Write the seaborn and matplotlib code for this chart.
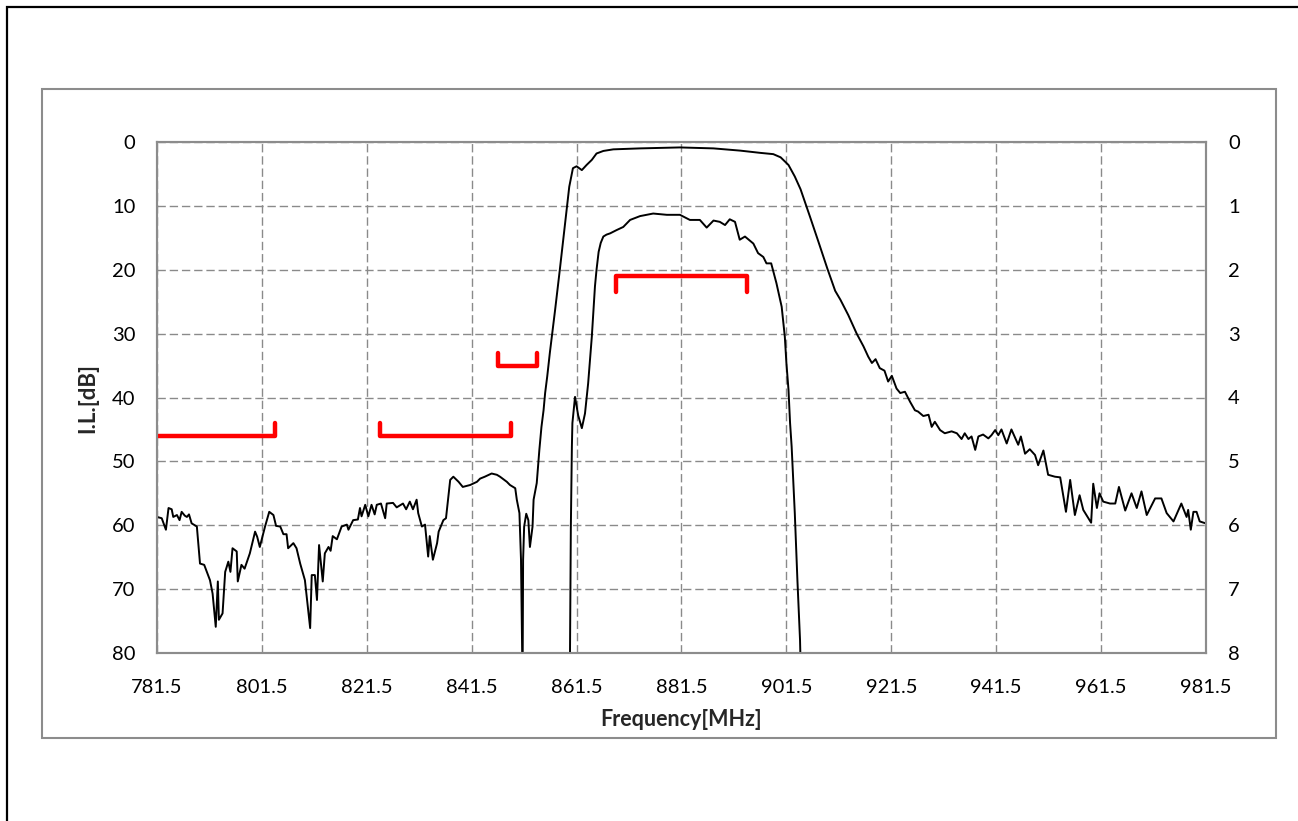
import numpy as np
import pandas as pd
import matplotlib
matplotlib.use("Agg")
import matplotlib.pyplot as plt
from matplotlib.patches import Rectangle
import seaborn as sns

# Wideband response (left axis, dB)
wide_freq = [
    781.5, 782.4, 783.2, 783.7, 784.3, 784.6, 785.3, 785.8, 786.2, 786.8, 787.2, 787.6,
    788.1, 789.1, 789.7, 790.5, 791.6, 792.1, 792.7, 793.1, 793.3, 794.0, 794.5, 795.1,
    795.5, 795.9, 796.7, 796.9, 797.6, 798.2, 799.2, 800.2, 800.6, 801.1, 802.1, 802.9,
    803.7, 804.2, 805.0, 805.6, 806.2, 806.5, 807.5, 808.1, 808.8, 809.7, 810.7, 811.0,
    811.6, 812.0, 812.4, 813.1, 813.5, 814.2, 814.6, 815.0, 815.8, 816.7, 817.7, 818.0,
    818.9, 819.8, 820.2, 820.5, 821.2, 821.8, 822.4, 823.0, 823.4, 824.2, 825.0, 825.3,
    826.5, 827.2, 828.4, 829.0, 829.7, 830.3, 831.0, 831.3, 832.0, 832.6, 833.2, 833.5,
    834.1, 834.9, 835.2, 836.1, 836.6, 837.4, 838.0, 839.0, 839.8, 841.2, 842.5, 843.1,
    844.0, 845.3, 846.3, 846.9, 848.2, 848.8, 849.8, 850.1, 850.6, 850.9, 851.2, 851.3,
    851.5, 851.9, 852.3, 852.6, 853.1, 853.3, 853.9, 854.4, 854.8, 855.2, 855.5, 855.9,
    856.4, 857.4, 858.3, 859.3, 860.1, 860.8, 861.5, 862.5, 863.4, 864.4, 865.3, 866.6,
    868.5, 873.6, 881.2, 887.6, 892.7, 896.5, 899.0, 900.4, 901.9, 903.1, 904.2, 906.0,
    907.6, 909.3, 910.8, 911.8, 913.3, 914.9, 916.2, 917.1, 917.8, 918.5, 919.3, 920.2,
    920.9, 921.6, 922.5, 923.2, 924.1, 925.1, 926.0, 926.6, 927.6, 928.6, 929.2, 929.8,
    930.8, 931.7, 933.0, 934.0, 934.9, 935.5, 936.2, 936.8, 937.5, 938.1, 939.0, 940.0,
    940.6, 941.3, 941.9, 942.5, 943.5, 944.4, 945.7, 946.2, 947.0, 947.9, 948.9, 949.5,
    950.5, 951.4, 952.7, 953.7, 954.8, 955.6, 956.5, 957.4, 958.1, 959.6, 960.0, 960.7,
    961.2, 961.9, 963.2, 964.2, 964.9, 966.1, 967.3, 968.3, 969.2, 970.2, 971.8, 973.0,
    974.0, 975.3, 976.8, 977.8, 978.1, 978.6, 979.1, 979.7, 980.3, 981.8,
]
wide_db = [
    58.7, 58.9, 60.7, 57.3, 57.5, 58.7, 58.4, 59.2, 57.9, 58.5, 58.7, 58.3,
    59.7, 60.2, 66.0, 66.2, 68.6, 70.7, 75.9, 68.8, 74.8, 73.8, 67.3, 65.7,
    67.3, 63.6, 64.1, 68.8, 66.2, 66.8, 64.4, 61.0, 61.8, 63.4, 60.2, 57.9,
    58.4, 60.1, 60.2, 61.4, 61.4, 63.6, 62.8, 63.6, 66.0, 68.6, 76.1, 67.8,
    67.8, 71.7, 63.1, 68.8, 64.4, 63.4, 64.0, 61.7, 62.2, 60.2, 59.9, 60.7,
    59.2, 59.1, 57.3, 58.6, 56.8, 58.6, 56.8, 58.3, 56.8, 56.6, 58.9, 56.6,
    56.5, 57.2, 56.6, 57.5, 56.3, 57.5, 56.0, 58.1, 60.2, 59.9, 64.9, 61.7,
    65.4, 62.8, 61.0, 59.2, 58.9, 52.9, 52.4, 53.2, 54.0, 53.7, 53.2, 52.7,
    52.4, 51.9, 52.1, 52.4, 53.2, 53.7, 54.2, 56.0, 58.1, 65.4, 85.0, 65.4,
    60.2, 58.2, 59.2, 63.4, 60.2, 56.0, 53.4, 48.2, 44.6, 42.0, 39.3, 36.7,
    33.0, 26.3, 20.0, 12.7, 7.0, 4.1, 3.8, 4.4, 3.6, 2.8, 1.8, 1.4,
    1.15, 1.0, 0.85, 1.0, 1.35, 1.7, 1.9, 2.4, 3.6, 5.4, 7.4, 11.7,
    15.6, 19.8, 23.3, 24.7, 27.1, 30.0, 32.0, 33.6, 34.6, 34.0, 35.4, 35.8,
    37.5, 36.6, 38.6, 39.3, 39.1, 40.7, 42.0, 42.2, 42.9, 42.7, 44.6, 43.8,
    45.1, 45.6, 45.3, 45.6, 46.5, 45.6, 46.5, 46.1, 48.2, 46.1, 45.8, 46.4,
    45.9, 45.1, 45.9, 45.0, 47.2, 45.0, 47.4, 46.1, 48.8, 48.1, 49.0, 50.6,
    48.3, 52.1, 52.4, 52.5, 57.9, 52.9, 58.4, 55.3, 57.6, 59.6, 53.5, 57.3,
    55.0, 56.3, 56.6, 56.6, 54.0, 57.7, 55.0, 57.3, 54.7, 58.4, 55.8, 55.8,
    58.1, 59.4, 56.6, 58.7, 57.6, 60.7, 57.9, 57.9, 59.4, 59.8,
]

# Passband detail (right axis, dB)
pass_freq = [
    860.2, 860.4, 860.6, 860.7, 861.2, 861.8, 862.5, 863.1, 863.7, 864.4, 865.0, 865.3,
    865.7, 866.1, 866.6, 867.2, 867.9, 869.1, 870.4, 871.7, 873.6, 876.1, 878.7, 881.2,
    883.1, 885.0, 886.3, 887.6, 888.8, 889.8, 890.7, 891.7, 892.6, 893.6, 895.2, 896.1,
    897.1, 897.7, 898.6, 899.6, 900.6, 901.2, 901.5, 901.9, 902.2, 902.5, 903.1, 903.6,
    904.1, 904.3,
]
pass_db = [
    8.5, 6.05, 4.77, 4.40, 3.99, 4.28, 4.48, 4.25, 3.78, 3.05, 2.26, 2.00,
    1.72, 1.58, 1.48, 1.45, 1.43, 1.38, 1.33, 1.22, 1.16, 1.12, 1.14, 1.14,
    1.22, 1.22, 1.34, 1.23, 1.25, 1.30, 1.21, 1.25, 1.53, 1.48, 1.59, 1.74,
    1.80, 1.90, 1.90, 2.21, 2.58, 3.05, 3.46, 3.88, 4.40, 4.77, 5.81, 6.86,
    7.80, 8.5,
]

# Spec masks (left axis): start, stop, level, end-tick level
mask_start = [776.0, 824.0, 846.5, 869.0]
mask_stop = [804.0, 849.0, 854.0, 894.0]
mask_level = [46.0, 46.0, 35.0, 21.0]
mask_tip = [44.0, 44.0, 33.0, 23.5]

x_ticks = [781.5, 801.5, 821.5, 841.5, 861.5, 881.5, 901.5, 921.5, 941.5, 961.5, 981.5]
left_ticks = [0, 10, 20, 30, 40, 50, 60, 70, 80]
right_ticks = [0, 1, 2, 3, 4, 5, 6, 7, 8]

sns.set_style("white")
plt.rcParams['font.family'] = ['Lato', 'DejaVu Sans']

W, H = 1298, 821
fig = plt.figure(figsize=(W / 100, H / 100), dpi=100)

# outer black frame and grey chart-area frame
fig.add_artist(Rectangle((7 / W, -0.05), 1.1, 1 - 7 / H + 0.05, transform=fig.transFigure,
                         fill=False, edgecolor='black', linewidth=1.6))
fig.add_artist(Rectangle((42 / W, 1 - 738 / H), (1276 - 42) / W, (738 - 89) / H,
                         transform=fig.transFigure, fill=False, edgecolor='#8c8c8c', linewidth=1.5))

ax = fig.add_axes([157 / W, 1 - 653 / H, (1206 - 157) / W, (653 - 142) / H])
ax2 = ax.twinx()

wide = pd.DataFrame({'freq': wide_freq, 'il': wide_db})
band = pd.DataFrame({'freq': pass_freq, 'il': pass_db})

sns.lineplot(data=wide, x='freq', y='il', sort=False, estimator=None,
             color='black', linewidth=1.4, ax=ax)
sns.lineplot(data=band, x='freq', y='il', sort=False, estimator=None,
             color='black', linewidth=1.4, ax=ax2)

for lo, hi, lev, tip in zip(mask_start, mask_stop, mask_level, mask_tip):
    ax.plot([lo, lo, hi, hi], [tip, lev, lev, tip], color='#ff0000', linewidth=3.2,
            solid_capstyle='round', solid_joinstyle='round', zorder=5)

ax.set_xlim(781.5, 981.5)
ax.set_ylim(80, 0)
ax2.set_ylim(8, 0)
ax.set_xticks(x_ticks)
ax.set_xticklabels([f"{v:.1f}" for v in x_ticks])
ax.set_yticks(left_ticks)
ax2.set_yticks(right_ticks)

ax.grid(True, color='#8a8a8a', linestyle=(0, (6, 2.8)), linewidth=1.0)
ax2.grid(False)
for a in (ax, ax2):
    for s in a.spines.values():
        s.set_color('#8c8c8c')
        s.set_linewidth(1.5)
    a.tick_params(length=0, labelsize=14.5, colors='black')
ax.tick_params(axis='y', pad=15.5)
ax.tick_params(axis='x', pad=19)
ax2.tick_params(axis='y', pad=16)

ax.set_xlabel('Frequency[MHz]', fontsize=15.5, fontweight='bold', labelpad=9)
ax.set_ylabel('I.L.[dB]', fontsize=16, fontweight='bold', labelpad=10)
ax2.set_ylabel('')

fig.savefig('out.png', dpi=100)
